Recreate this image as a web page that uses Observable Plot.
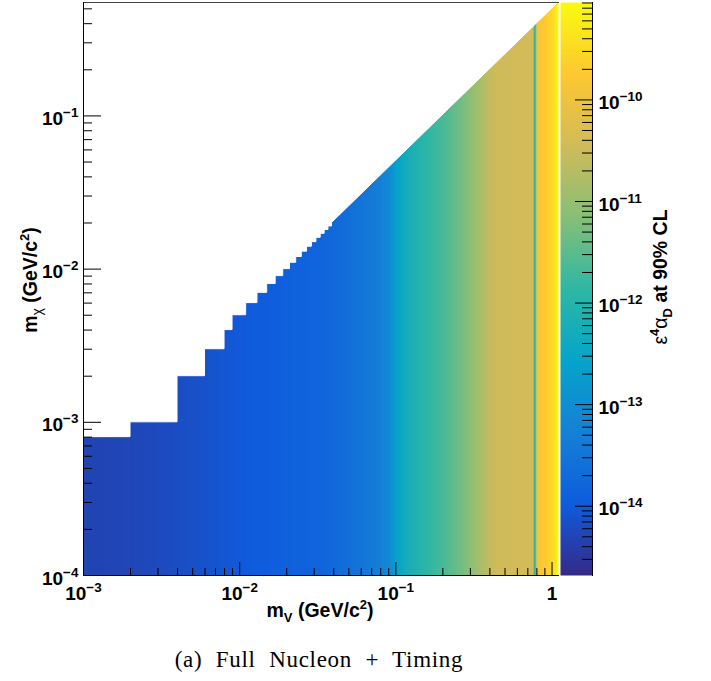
<!DOCTYPE html>
<html><head><meta charset="utf-8">
<script src="https://cdn.jsdelivr.net/npm/d3@7"></script>
<script src="https://cdn.jsdelivr.net/npm/@observablehq/plot@0.6"></script>
<style>
body{margin:0;background:#fff;}
#wrap{position:relative;width:711px;height:681px;overflow:hidden;background:#fff;}
#wrap > svg{position:absolute;left:0;top:0;}
.cap{font-family:"Liberation Serif","Times New Roman",serif;font-size:23px;word-spacing:7px;letter-spacing:0.7px;}
</style></head><body><div id="wrap"></div>
<script>
// ---- data ----
// dark-photon mass columns (GeV/c^2) and the 90% CL limit on eps^4 alpha_D at each
const mV = [0.001, 0.002, 0.003, 0.005, 0.007, 0.01, 0.015, 0.02, 0.033, 0.05, 0.065, 0.08, 0.09, 0.095, 0.1, 0.11, 0.128, 0.164, 0.209, 0.268, 0.342, 0.406, 0.45, 0.546, 0.716, 0.755, 0.768, 0.776, 0.784, 0.795, 0.81, 0.9, 0.986, 1.06, 1.1];
const epsAlpha = [4.7e-15, 5.2e-15, 5.8e-15, 7.1e-15, 8.1e-15, 9.8e-15, 1.12e-14, 1.26e-14, 1.5e-14, 2.4e-14, 3.5e-14, 5.0e-14, 7.9e-14, 1.26e-13, 2.2e-13, 4.0e-13, 7.1e-13, 1.4e-12, 2.5e-12, 5.2e-12, 1.35e-11, 2.8e-11, 3.5e-11, 3.6e-11, 3.8e-11, 3.5e-11, 2.5e-12, 2.5e-13, 2.5e-12, 1.0e-10, 1.3e-10, 1.8e-10, 2.8e-10, 5.4e-10, 8.7e-10];
// dark-matter mass rows at which the columns are sampled
const mChiRows = [0.0001, 0.55];
// upper edge of the filled region (m_chi max) – staircase at low mass, diagonal above
const stairMV   = [0.001, 0.002, 0.004, 0.006, 0.008, 0.009, 0.011, 0.013, 0.015, 0.017, 0.019, 0.021, 0.023, 0.025, 0.027, 0.029, 0.031, 0.033, 0.035, 0.037, 0.039];
const stairMChi = [0.0008, 0.001, 0.002, 0.003, 0.004, 0.005, 0.006, 0.007, 0.008, 0.009, 0.010, 0.011, 0.012, 0.013, 0.014, 0.015, 0.016, 0.017, 0.018, 0.019, 0.020];
const diagMV   = [0.039, 1.1];
const diagMChi = [0.020, 0.55];
// axis ranges
const mVRange = [0.001, 1.1];
const mChiRange = [0.0001, 0.55];
const zRange = [2.08e-15, 9.1e-10];
// ticks
const xMajor = [0.001, 0.01, 0.1, 1];
const xMinor = [0.002,0.003,0.004,0.005,0.006,0.007,0.008,0.009,0.02,0.03,0.04,0.05,0.06,0.07,0.08,0.09,0.2,0.3,0.4,0.5,0.6,0.7,0.8,0.9];
const yMajor = [0.0001, 0.001, 0.01, 0.1];
const yMinor = [0.0002,0.0003,0.0004,0.0005,0.0006,0.0007,0.0008,0.0009,0.002,0.003,0.004,0.005,0.006,0.007,0.008,0.009,0.02,0.03,0.04,0.05,0.06,0.07,0.08,0.09,0.2,0.3,0.4,0.5];
const zMajor = [1e-14, 1e-13, 1e-12, 1e-11, 1e-10];
const zMinor = [3e-15,4e-15,5e-15,6e-15,7e-15,8e-15,9e-15,2e-14,3e-14,4e-14,5e-14,6e-14,7e-14,8e-14,9e-14,2e-13,3e-13,4e-13,5e-13,6e-13,7e-13,8e-13,9e-13,2e-12,3e-12,4e-12,5e-12,6e-12,7e-12,8e-12,9e-12,2e-11,3e-11,4e-11,5e-11,6e-11,7e-11,8e-11,9e-11,2e-10,3e-10,4e-10,5e-10,6e-10,7e-10,8e-10,9e-10];
// ROOT kBird palette stops
const birdStops = ["#352a87","#0f5cdd","#1481d6","#06a4ca","#2eb7a4","#87bf77","#d1bb59","#fec832","#f9fb0e"];

// ---- build ----
const bird = d3.piecewise(d3.interpolateRgb, birdStops);
const samples = mV.flatMap((m, i) => mChiRows.map(c => ({mV: m, mChi: c, v: epsAlpha[i]})));
const stairs = stairMV.map((m, i) => ({mV: m, mChi: stairMChi[i]}));
const diag = diagMV.map((m, i) => ({mV: m, mChi: diagMChi[i]}));
const colorOpts = {type: "linear", domain: zRange.map(Math.log10), interpolate: bird, clamp: true};
const fmt = d => { const e = Math.round(Math.log10(d)); return e === 0 ? "1" : `10^${e < 0 ? "\u2212" : ""}${Math.abs(e)}`; };
const font = {fontFamily: "'Liberation Sans', Arial, sans-serif", fontWeight: "bold", fontSize: "19px", background: "transparent", overflow: "visible"};

const main = Plot.plot({
  width: 560, height: 640, marginLeft: 83, marginRight: 2, marginTop: 2, marginBottom: 65,
  x: {type: "log", domain: mVRange},
  y: {type: "log", domain: mChiRange},
  color: colorOpts,
  style: font,
  marks: [
    Plot.raster(samples, {x: "mV", y: "mChi", fill: d => Math.log10(d.v), interpolate: "barycentric",
      x1: mVRange[0], x2: mVRange[1], y1: mChiRange[0], y2: mChiRange[1]}),
    Plot.area(stairs, {x1: "mV", y1: "mChi", y2: () => mChiRange[1], curve: "step-after", fill: "white", stroke: "white", strokeWidth: 1}),
    Plot.area(diag, {x1: "mV", y1: "mChi", y2: () => mChiRange[1], fill: "white", stroke: "white", strokeWidth: 1}),
    Plot.frame({anchor: "top", stroke: "#444"}),
    Plot.frame({anchor: "left", stroke: "black"}),
    Plot.frame({anchor: "bottom", stroke: "black"}),
    Plot.ruleY(yMajor, {insetRight: 457}),
    Plot.ruleY(yMinor, {insetRight: 466}),
    Plot.ruleX(xMajor, {insetTop: 560}),
    Plot.ruleX(xMinor, {insetTop: 566}),
    Plot.axisX(xMajor, {tickSize: 0, tickPadding: 11, tickFormat: fmt, label: null}),
    Plot.axisY(yMajor, {tickSize: 0, tickPadding: 5, tickFormat: fmt, label: null, dy: 3})
  ]
});

const bar = Plot.plot({
  width: 151, height: 640, marginLeft: 0, marginRight: 119, marginTop: 2, marginBottom: 65,
  x: {domain: [0, 1], axis: null},
  y: {type: "log", domain: zRange},
  color: colorOpts,
  style: font,
  marks: [
    Plot.raster({fill: (x, y) => Math.log10(y), x1: 0, x2: 1, y1: zRange[0], y2: zRange[1]}),
    Plot.frame({anchor: "right", stroke: "black"}),
    Plot.ruleY(zMajor, {insetLeft: 15}),
    Plot.ruleY(zMinor, {insetLeft: 22}),
    Plot.axisY(zMajor, {anchor: "right", tickSize: 0, tickPadding: 6, tickFormat: fmt, label: null, dy: 3})
  ]
});
bar.style.left = "560px";

const NS = "http://www.w3.org/2000/svg";
function supify(svg) {
  svg.querySelectorAll("text").forEach(t => {
    const m = /^10\^(.+)$/.exec(t.textContent);
    if (!m) return;
    t.textContent = "";
    const a = document.createElementNS(NS, "tspan"); a.textContent = "10"; t.appendChild(a);
    const b = document.createElementNS(NS, "tspan"); b.setAttribute("dy", "-8"); b.setAttribute("font-size", "13.5"); b.textContent = m[1]; t.appendChild(b);
  });
}
supify(main); supify(bar);

const wrap = document.getElementById("wrap");
wrap.appendChild(main);
wrap.appendChild(bar);

const overlay = document.createElementNS(NS, "svg");
overlay.setAttribute("width", 711); overlay.setAttribute("height", 681);
overlay.style.pointerEvents = "none";
overlay.innerHTML = `
<g font-family="'Liberation Sans', Arial, sans-serif" font-weight="bold" font-size="19.5" fill="black">
  <text x="320" y="617" text-anchor="middle">m<tspan font-size="13" dy="5">V</tspan><tspan dy="-5"> (GeV/c</tspan><tspan font-size="13" dy="-8">2</tspan><tspan dy="8">)</tspan></text>
  <text transform="translate(37,280) rotate(-90)" text-anchor="middle">m<tspan font-size="14" font-weight="normal" dy="5">χ</tspan><tspan dy="-5"> (GeV/c</tspan><tspan font-size="13" dy="-8">2</tspan><tspan dy="8">)</tspan></text>
  <text transform="translate(667,277) rotate(-90)" text-anchor="middle"><tspan font-weight="normal">ε</tspan><tspan font-size="13" dy="-8">4</tspan><tspan dy="8" font-weight="normal">α</tspan><tspan font-size="13" dy="5">D</tspan><tspan dy="-5"> at 90% CL</tspan></text>
</g>
<text class="cap" x="319" y="667" text-anchor="middle">(a) Full Nucleon + Timing</text>`;
wrap.appendChild(overlay);
</script></body></html>
